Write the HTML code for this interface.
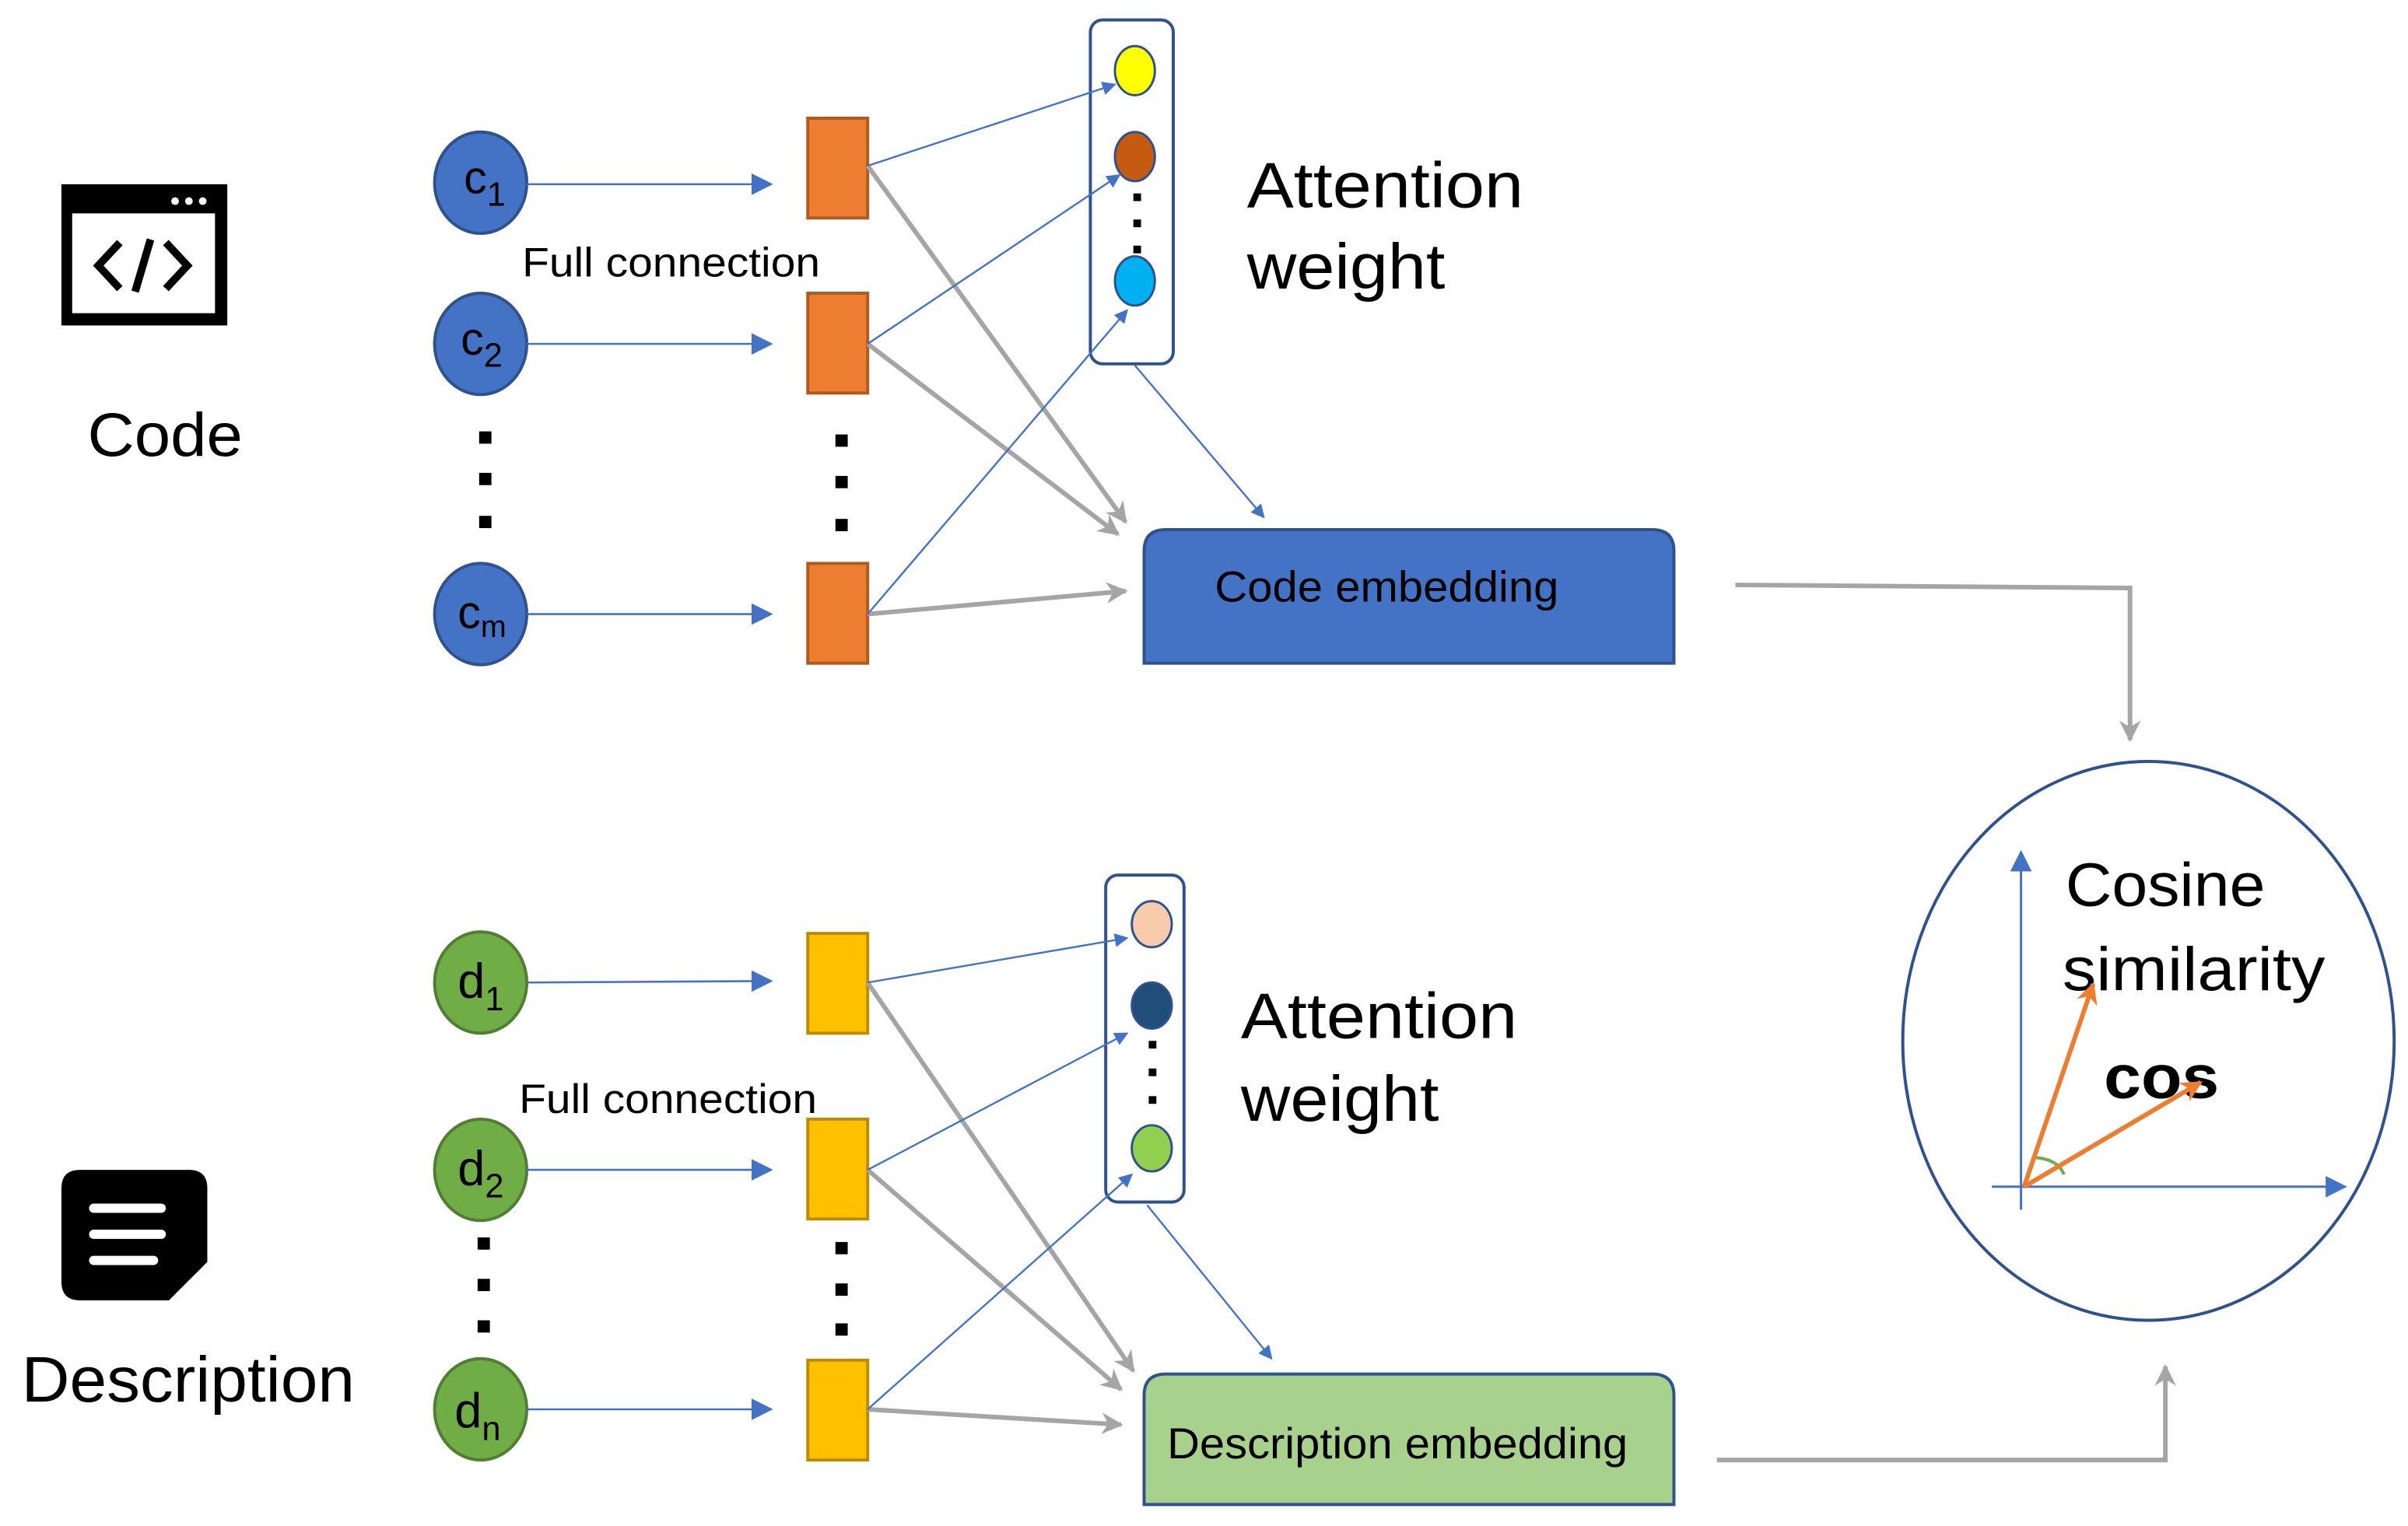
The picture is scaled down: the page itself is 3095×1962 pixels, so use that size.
<!DOCTYPE html>
<html><head><meta charset="utf-8"><style>
html,body{margin:0;padding:0;background:#fff;}
svg{display:block;}
text{font-family:"Liberation Sans","DejaVu Sans",sans-serif;fill:#000;}
</style></head><body>
<svg width="3095" height="1962" viewBox="0 0 1568 994" preserveAspectRatio="none" xmlns="http://www.w3.org/2000/svg">
<defs>
<marker id="ab" viewBox="0 0 10 10" refX="9" refY="5" markerWidth="9" markerHeight="9" markerUnits="userSpaceOnUse" orient="auto"><path d="M0,0 L10,5 L0,10 z" fill="#4472C4"/></marker>
<marker id="abl" viewBox="0 0 10 10" refX="9" refY="5" markerWidth="14" markerHeight="14" markerUnits="userSpaceOnUse" orient="auto"><path d="M0,0 L10,5 L0,10 z" fill="#4472C4"/></marker>
<marker id="ag" viewBox="0 0 10 10" refX="9" refY="5" markerWidth="14" markerHeight="14" markerUnits="userSpaceOnUse" orient="auto"><path d="M0,0 L10,5 L0,10 L3,5 z" fill="#A5A5A5"/></marker>
<marker id="ao" viewBox="0 0 10 10" refX="9" refY="5" markerWidth="14" markerHeight="14" markerUnits="userSpaceOnUse" orient="auto"><path d="M0,0 L10,5 L0,10 L3,5 z" fill="#ED7D31"/></marker>
</defs>

<!-- Code icon -->
<rect x="40" y="120" width="108" height="92" fill="#000"/>
<rect x="47" y="139" width="93" height="65" fill="#fff"/>
<circle cx="114" cy="131" r="2.5" fill="#fff"/><circle cx="123" cy="131" r="2.5" fill="#fff"/><circle cx="132" cy="131" r="2.5" fill="#fff"/>
<path d="M78,158 L64,173 L78,188 M108,158 L122,173 L108,188 M98,156 L88,190" stroke="#000" stroke-width="5" fill="none"/>
<text x="57" y="297" font-size="40" textLength="101" lengthAdjust="spacingAndGlyphs">Code</text>

<!-- Description icon -->
<path d="M52,762 L123,762 Q135,762 135,774 L135,822 L110,847 L52,847 Q40,847 40,835 L40,774 Q40,762 52,762 z" fill="#000"/>
<rect x="58" y="784" width="50" height="6" rx="3" fill="#fff"/>
<rect x="58" y="801" width="50" height="6" rx="3" fill="#fff"/>
<rect x="58" y="818" width="45" height="6" rx="3" fill="#fff"/>
<text x="14" y="913" font-size="42" textLength="217" lengthAdjust="spacingAndGlyphs">Description</text>

<!-- code inputs -->
<g fill="#4472C4" stroke="#2F528F" stroke-width="2">
<ellipse cx="313" cy="119" rx="30" ry="33"/>
<ellipse cx="313" cy="224" rx="30" ry="33"/>
<ellipse cx="313" cy="400" rx="30" ry="33"/>
</g>
<text x="302" y="126" font-size="30">c<tspan font-size="22" dy="8">1</tspan></text>
<text x="300" y="231" font-size="30">c<tspan font-size="22" dy="8">2</tspan></text>
<text x="298" y="409" font-size="30">c<tspan font-size="20" dy="6">m</tspan></text>
<g fill="#000"><rect x="312" y="281" width="8" height="8"/><rect x="312" y="308" width="8" height="8"/><rect x="312" y="336" width="8" height="8"/>
<rect x="544" y="283" width="8" height="8"/><rect x="544" y="310" width="8" height="8"/><rect x="544" y="338" width="8" height="8"/></g>
<g stroke="#4472C4" stroke-width="1.3" marker-end="url(#abl)">
<line x1="343" y1="120" x2="502" y2="120"/>
<line x1="343" y1="224" x2="502" y2="224"/>
<line x1="343" y1="400" x2="502" y2="400"/>
</g>
<text x="340" y="180" font-size="27" textLength="194" lengthAdjust="spacingAndGlyphs">Full connection</text>
<g fill="#ED7D31" stroke="#AE5A21" stroke-width="2">
<rect x="526" y="77" width="39" height="65"/>
<rect x="526" y="191" width="39" height="65"/>
<rect x="526" y="367" width="39" height="65"/>
</g>

<!-- attention box 1 -->
<rect x="710" y="13" width="54" height="224" rx="8" fill="#fff" stroke="#2F528F" stroke-width="2"/>
<ellipse cx="739" cy="46" rx="13" ry="16" fill="#FFFF00" stroke="#2F528F" stroke-width="1.5"/>
<ellipse cx="739" cy="102" rx="13" ry="16" fill="#C55A11" stroke="#2F528F" stroke-width="1.5"/>
<ellipse cx="739" cy="183" rx="13" ry="16" fill="#00B0F0" stroke="#2F528F" stroke-width="1.5"/>
<g fill="#000"><rect x="738" y="126" width="5" height="5"/><rect x="738" y="143" width="5" height="5"/><rect x="738" y="160" width="5" height="5"/></g>
<g stroke="#A5A5A5" stroke-width="3" marker-end="url(#ag)">
<line x1="565" y1="108" x2="733" y2="340"/>
<line x1="565" y1="224" x2="728" y2="348"/>
<line x1="565" y1="400" x2="733" y2="385"/>
</g>
<g stroke="#4472C4" stroke-width="1.2" marker-end="url(#ab)">
<line x1="565" y1="108" x2="726" y2="55"/>
<line x1="565" y1="224" x2="729" y2="114"/>
<line x1="565" y1="400" x2="734" y2="202"/>
<line x1="739" y1="238" x2="823" y2="337"/>
</g>
<text x="812" y="135" font-size="42" textLength="180" lengthAdjust="spacingAndGlyphs">Attention</text>
<text x="812" y="188" font-size="42" textLength="129" lengthAdjust="spacingAndGlyphs">weight</text>
<path d="M745,432 L745,359 Q745,345 759,345 L1076,345 Q1090,345 1090,359 L1090,432 z" fill="#4472C4" stroke="#2F528F" stroke-width="2"/>
<text x="791" y="392" font-size="28" textLength="224" lengthAdjust="spacingAndGlyphs">Code embedding</text>
<polyline points="1130,381 1387,383 1387,482" fill="none" stroke="#A5A5A5" stroke-width="3" marker-end="url(#ag)"/>

<!-- description inputs -->
<g fill="#70AD47" stroke="#507E32" stroke-width="2">
<ellipse cx="313" cy="640" rx="30" ry="33"/>
<ellipse cx="313" cy="762" rx="30" ry="33"/>
<ellipse cx="313" cy="918" rx="30" ry="33"/>
</g>
<text x="298" y="650" font-size="32">d<tspan font-size="22" dy="8">1</tspan></text>
<text x="298" y="772" font-size="32">d<tspan font-size="22" dy="8">2</tspan></text>
<text x="296" y="930" font-size="32">d<tspan font-size="22" dy="8">n</tspan></text>
<g fill="#000"><rect x="311" y="806" width="8" height="8"/><rect x="311" y="833" width="8" height="8"/><rect x="311" y="860" width="8" height="8"/>
<rect x="544" y="809" width="8" height="8"/><rect x="544" y="836" width="8" height="8"/><rect x="544" y="862" width="8" height="8"/></g>
<g stroke="#4472C4" stroke-width="1.3" marker-end="url(#abl)">
<line x1="343" y1="640" x2="502" y2="639"/>
<line x1="343" y1="762" x2="502" y2="762"/>
<line x1="343" y1="918" x2="502" y2="918"/>
</g>
<text x="338" y="725" font-size="27" textLength="194" lengthAdjust="spacingAndGlyphs">Full connection</text>
<g fill="#FFC000" stroke="#BC8C00" stroke-width="2">
<rect x="526" y="608" width="39" height="65"/>
<rect x="526" y="729" width="39" height="65"/>
<rect x="526" y="886" width="39" height="65"/>
</g>
<rect x="720" y="570" width="51" height="213" rx="8" fill="#fff" stroke="#2F528F" stroke-width="2"/>
<ellipse cx="750" cy="602" rx="13" ry="15" fill="#F8CBAD" stroke="#2F528F" stroke-width="1.5"/>
<ellipse cx="750" cy="655" rx="13" ry="15" fill="#1F4E79" stroke="#2F528F" stroke-width="1.5"/>
<ellipse cx="750" cy="748" rx="13" ry="15" fill="#92D050" stroke="#2F528F" stroke-width="1.5"/>
<g fill="#000"><rect x="748" y="678" width="5" height="5"/><rect x="748" y="696" width="5" height="5"/><rect x="748" y="714" width="5" height="5"/></g>
<g stroke="#A5A5A5" stroke-width="3" marker-end="url(#ag)">
<line x1="565" y1="640" x2="738" y2="893"/>
<line x1="565" y1="762" x2="730" y2="905"/>
<line x1="565" y1="918" x2="730" y2="928"/>
</g>
<g stroke="#4472C4" stroke-width="1.2" marker-end="url(#ab)">
<line x1="565" y1="640" x2="734" y2="611"/>
<line x1="565" y1="762" x2="734" y2="673"/>
<line x1="565" y1="918" x2="737" y2="765"/>
<line x1="747" y1="785" x2="828" y2="885"/>
</g>
<text x="808" y="676" font-size="42" textLength="180" lengthAdjust="spacingAndGlyphs">Attention</text>
<text x="808" y="730" font-size="42" textLength="129" lengthAdjust="spacingAndGlyphs">weight</text>
<path d="M745,980 L745,909 Q745,895 759,895 L1076,895 Q1090,895 1090,909 L1090,980 z" fill="#A9D18E" stroke="#2F528F" stroke-width="2"/>
<text x="760" y="950" font-size="28" textLength="300" lengthAdjust="spacingAndGlyphs">Description embedding</text>
<polyline points="1118,951 1410,951 1410,890" fill="none" stroke="#A5A5A5" stroke-width="3" marker-end="url(#ag)"/>

<!-- cosine circle -->
<ellipse cx="1399" cy="678" rx="160" ry="182" fill="none" stroke="#2F528F" stroke-width="2"/>
<line x1="1316" y1="788" x2="1316" y2="555" stroke="#4472C4" stroke-width="1.5" marker-end="url(#abl)"/>
<line x1="1297" y1="773" x2="1527" y2="773" stroke="#4472C4" stroke-width="1.5" marker-end="url(#abl)"/>
<text x="1345" y="590" font-size="40" textLength="130" lengthAdjust="spacingAndGlyphs">Cosine</text>
<text x="1343" y="645" font-size="40" textLength="171" lengthAdjust="spacingAndGlyphs">similarity</text>
<text x="1370" y="715" font-size="40" font-weight="bold" textLength="75" lengthAdjust="spacingAndGlyphs">cos</text>
<path d="M1325,754 Q1340,755 1344,765" fill="none" stroke="#70AD47" stroke-width="2"/>
<line x1="1318" y1="773" x2="1363" y2="641" stroke="#ED7D31" stroke-width="3" marker-end="url(#ao)"/>
<line x1="1318" y1="773" x2="1433" y2="705" stroke="#ED7D31" stroke-width="3" marker-end="url(#ao)"/>
</svg>
</body></html>
